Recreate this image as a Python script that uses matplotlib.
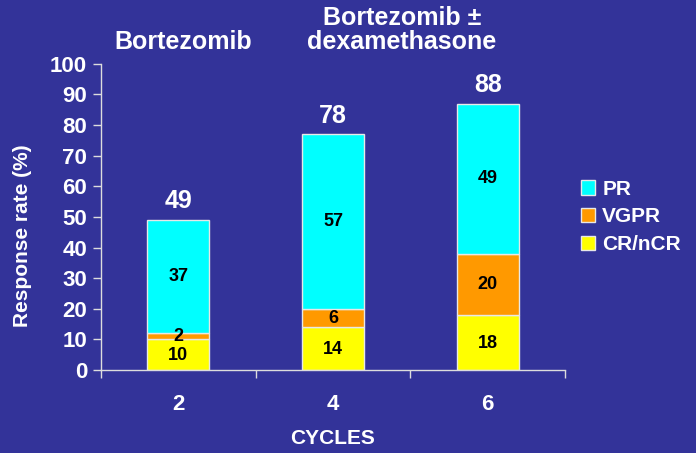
import numpy as np
import matplotlib.pyplot as plt
from matplotlib.patches import Patch

plt.rcParams['font.family'] = ['Liberation Sans', 'DejaVu Sans']
plt.rcParams['font.weight'] = 'bold'

# data
cycles = ['2', '4', '6']
cr_ncr = [10, 14, 18]
vgpr = [2, 6, 20]
pr = [37, 57, 49]
totals = [49, 78, 88]

bg = '#333399'
col_cr = '#FFFF00'
col_vgpr = '#FF9900'
col_pr = '#00FFFF'
edge = '#E8E8E8'

fig = plt.figure(figsize=(6.96, 4.53), dpi=100, facecolor=bg)
ax = fig.add_axes([0.145, 0.183, 0.667, 0.676], facecolor=bg)

x = np.arange(1, len(cycles) + 1)
w = 0.4
ax.bar(x, cr_ncr, w, color=col_cr, edgecolor=edge, linewidth=1)
ax.bar(x, vgpr, w, bottom=cr_ncr, color=col_vgpr, edgecolor=edge, linewidth=1)
bot2 = np.array(cr_ncr) + np.array(vgpr)
ax.bar(x, pr, w, bottom=bot2, color=col_pr, edgecolor=edge, linewidth=1)

# segment labels
for i in range(len(x)):
    ax.text(x[i], cr_ncr[i] / 2 - 0.3, str(cr_ncr[i]), ha='center', va='center',
            fontsize=13, fontweight='bold', color='black')
    ax.text(x[i], cr_ncr[i] + vgpr[i] / 2, str(vgpr[i]), ha='center', va='center',
            fontsize=13, fontweight='bold', color='black')
    ax.text(x[i], bot2[i] + pr[i] / 2, str(pr[i]), ha='center', va='center',
            fontsize=13, fontweight='bold', color='black')
    top = bot2[i] + pr[i]
    ax.text(x[i], top + 2.2, str(totals[i]), ha='center', va='bottom',
            fontsize=18, fontweight='bold', color='white')

ax.set_xlim(0.5, 3.5)
ax.set_ylim(0, 100)
ax.set_yticks(range(0, 101, 10))
ax.set_xticks([0.5, 1.5, 2.5, 3.5])
ax.set_xticklabels([])
ax.set_xticks(x, minor=True)
ax.set_xticklabels(cycles, minor=True)
ax.tick_params(axis='x', which='minor', length=0, pad=17, labelsize=16, labelcolor='white')
ax.tick_params(axis='x', which='major', length=6, width=1, color='#DDDDDD', direction='out')
ax.tick_params(axis='y', length=6, width=1, color='#DDDDDD', labelsize=16, labelcolor='white', pad=4)

for s in ['top', 'right']:
    ax.spines[s].set_visible(False)
for s in ['left', 'bottom']:
    ax.spines[s].set_color('#DDDDDD')
    ax.spines[s].set_linewidth(1)

ax.set_ylabel('Response rate (%)', fontsize=15, fontweight='bold', color='white')
ax.yaxis.set_label_coords(-0.149, 0.44)
ax.set_xlabel('CYCLES', fontsize=15, fontweight='bold', color='white', labelpad=10)

fig.text(183 / 696, 1 - 42 / 453, 'Bortezomib', ha='center', va='center',
         fontsize=18, fontweight='bold', color='white')
fig.text(402 / 696, 1 - 30 / 453, 'Bortezomib \u00b1\ndexamethasone', ha='center', va='center',
         fontsize=18, fontweight='bold', color='white', linespacing=1.05)

handles = [Patch(facecolor=col_pr, edgecolor=edge, label='PR'),
           Patch(facecolor=col_vgpr, edgecolor=edge, label='VGPR'),
           Patch(facecolor=col_cr, edgecolor=edge, label='CR/nCR')]
leg = fig.legend(handles=handles, loc='center left', bbox_to_anchor=(581 / 696, 1 - 217 / 453),
                 frameon=False, fontsize=15, handlelength=0.67, handleheight=0.67,
                 handletextpad=0.35, labelspacing=0.42, borderpad=0, borderaxespad=0)
for t in leg.get_texts():
    t.set_color('white')
    t.set_fontweight('bold')

fig.savefig('out.png', dpi=100, facecolor=bg)
